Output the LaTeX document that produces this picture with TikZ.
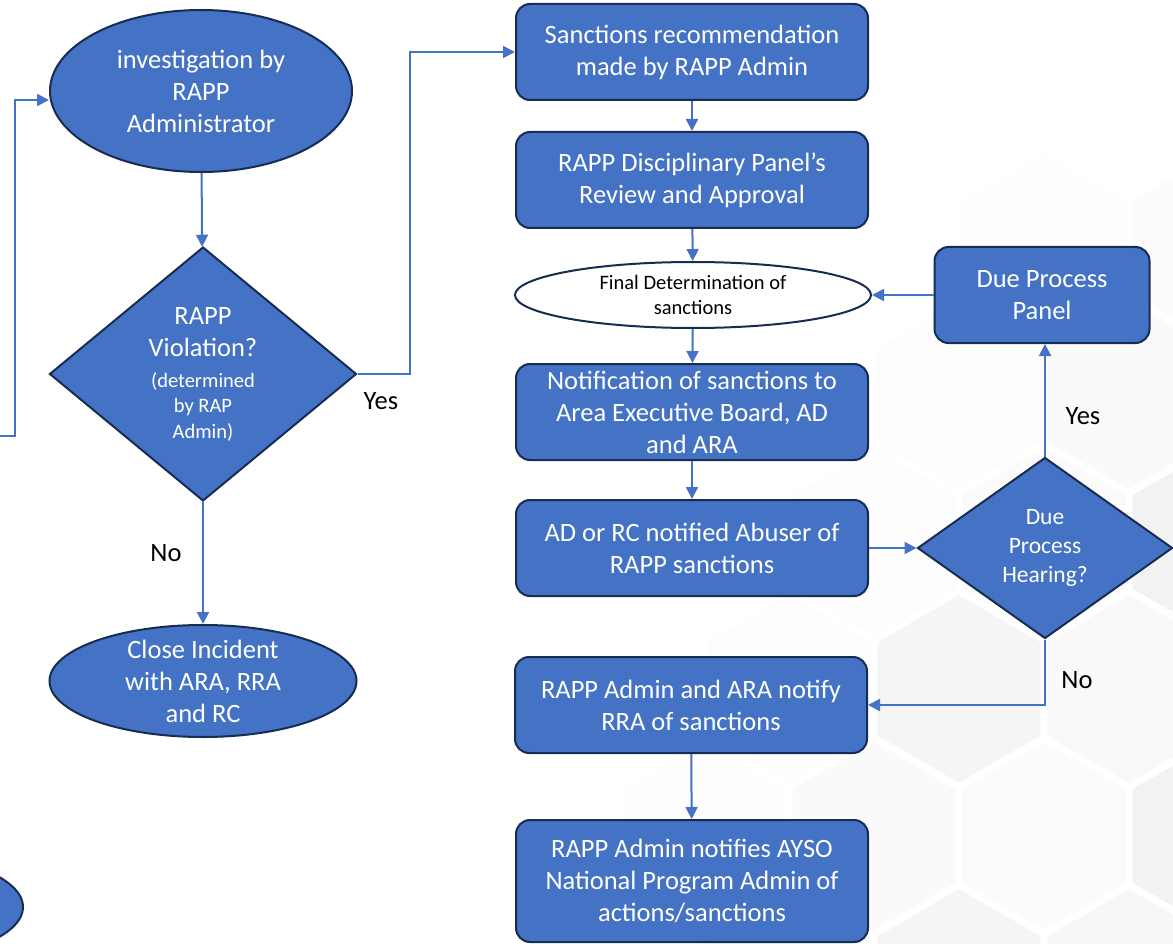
\documentclass[tikz,border=0pt]{standalone}
\usepackage{fontspec}
\setmainfont{Carlito}
\usetikzlibrary{shapes.geometric,arrows.meta}
\definecolor{fillblue}{HTML}{4472C4}
\definecolor{navy}{HTML}{172C51}
\definecolor{lineblue}{HTML}{4472C4}
\begin{document}
\begin{tikzpicture}[x=1pt,y=-1pt,
  bigfont/.style={font=\fontsize{26.5}{32}\selectfont},
  box/.style={draw=navy, line width=2pt, fill=fillblue, rounded corners=14pt,
    minimum width=352pt, minimum height=96pt, text=white, align=center,
    inner sep=0pt, bigfont},
  ell/.style={ellipse, draw=navy, line width=2pt, fill=fillblue, inner sep=0pt},
  elltxt/.style={text=white, align=center, bigfont},
  dia/.style={diamond, draw=navy, line width=2pt, fill=fillblue, inner sep=0pt,
    text=white, align=center},
  arr/.style={draw=lineblue, line width=2pt, -{Triangle[length=12pt,width=12pt]}},
  lab/.style={text=black, bigfont},
  hex/.style={draw=white, line width=7pt}
]
\useasboundingbox (0,0) rectangle (1173,944);
\clip (0,0) rectangle (1173,944);
% background hexagons
\foreach \cx/\cy/\g in {
  1044/248/0.5, 1214/248/1.5,
  959/395/0.8, 1129/395/2,
  874/542/0.6, 1044/542/1.5, 1214/542/5,
  789/689/0.8, 959/689/4, 1129/689/2.5,
  704/836/0.5, 874/836/2, 1044/836/1.5, 1214/836/5,
  789/983/2.5, 959/983/4, 1129/983/3}{
  \draw[hex, fill=black!\g, shift={(\cx,\cy)}]
    (90:98) -- (30:98) -- (-30:98) -- (-90:98) -- (-150:98) -- (150:98) -- cycle;
}
% left column
\node[ell, minimum width=302pt, minimum height=162pt,
  label={[elltxt]center:{investigation by\\RAPP\\Administrator}}] (inv) at (201,91) {};
\node[dia, minimum width=307pt, minimum height=254pt,
  font=\fontsize{20.5}{25}\selectfont] (d1) at (203,374)
  {{\fontsize{26.5}{32}\selectfont RAPP}\\[7pt]{\fontsize{26.5}{32}\selectfont Violation?}\\[6pt](determined\\by RAP\\[1pt]Admin)};
\node[ell, minimum width=307pt, minimum height=112pt,
  label={[elltxt]center:{Close Incident\\with ARA, RRA\\and RC}}] (close) at (203,681) {};
\node[ell, minimum width=306pt, minimum height=112pt] (cut) at (-130,907) {};
\coordinate (lin) at (0,436);
% right column
\node[box] (b1) at (692,52) {Sanctions recommendation\\made by RAPP Admin};
\node[box] (b2) at (692,180) {RAPP Disciplinary Panel’s\\Review and Approval};
\node[ellipse, draw=navy, line width=2pt, fill=white, inner sep=0pt,
  minimum width=356pt, minimum height=66pt,
  label={[text=black, align=center, font=\fontsize{20.5}{25}\selectfont]center:{Final Determination of\\sanctions}}] (fe) at (693,295) {};
\node[box] (b3) at (692,412) {Notification of sanctions to\\Area Executive Board, AD\\and ARA};
\node[box] (b4) at (692,548) {AD or RC notified Abuser of\\RAPP sanctions};
\node[box] (b5) at (691,705) {RAPP Admin and ARA notify\\RRA of sanctions};
\node[box, minimum height=122pt] (b6) at (692,881) {RAPP Admin notifies AYSO\\National Program Admin of\\actions/sanctions};
\node[box, minimum width=215pt] (dp) at (1042,295) {Due Process\\Panel};
\node[dia, minimum width=255pt, minimum height=181pt,
  font=\fontsize{23.5}{29}\selectfont] (d2) at (1045,548) {Due\\Process\\Hearing?};
% connectors
\draw[arr] (lin) -- (15,436) |- ([yshift=-9pt]inv.west);
\draw[arr] (inv) -- (d1);
\draw[arr] (d1.east) -- (410,374) |- (b1.west);
\draw[arr] (d1) -- (close);
\draw[arr] (b1) -- (b2);
\draw[arr] (b2) -- (fe);
\draw[arr] (fe) -- (b3);
\draw[arr] (b3) -- (b4);
\draw[arr] (b4.east) -- (d2.west);
\draw[arr] (d2.north) -- (d2.north |- dp.south);
\draw[arr] (dp.west) -- (fe.east);
\draw[arr] (d2.south) |- (b5.east);
\draw[arr] (b5) -- (b6);
% labels
\node[lab] (yes1) at (381,401) {Yes};
\node[lab] (no1) at (166,553) {No};
\node[lab] (yes2) at (1083,416) {Yes};
\node[lab] (no2) at (1077,680) {No};
\end{tikzpicture}
\end{document}
